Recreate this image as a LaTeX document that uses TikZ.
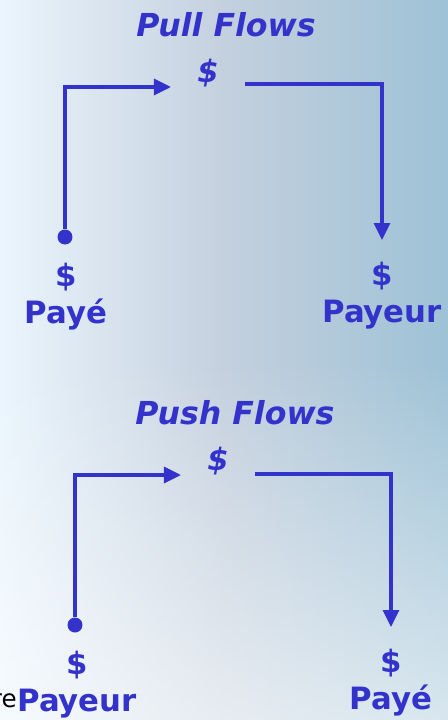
\documentclass[tikz,border=0pt]{standalone}
\usepackage{fontspec}
\setmainfont{DejaVu Sans}
\setsansfont{DejaVu Sans}
\usetikzlibrary{arrows.meta, positioning, calc, fadings}
\definecolor{flowblue}{RGB}{51, 51, 204}
\definecolor{bgleft}{RGB}{234, 245, 253}
\definecolor{bgmid}{RGB}{196, 208, 222}
\definecolor{bgright}{RGB}{158, 194, 214}
\tikzset{
  flow/.style     = {-{Triangle[length=0.34cm, width=0.32cm]}, line width=1.9pt, flowblue},
  title/.style    = {font=\fontsize{18}{21}\selectfont\bfseries\itshape, text=flowblue},
  money/.style    = {font=\fontsize{17.5}{21}\selectfont\bfseries\itshape, text=flowblue, inner xsep=0.52cm, inner ysep=0pt},
  party/.style    = {font=\fontsize{17.5}{21}\selectfont\bfseries, text=flowblue, align=center, inner xsep=0pt, inner ysep=0.44cm},
  srcdot/.style   = {circle, fill=flowblue, minimum size=0.3cm, inner sep=0pt},
}

\begin{document}
\begin{tikzpicture}[x=0.02cm, y=-0.02cm]

% fond
\useasboundingbox (0,0) rectangle (448,720);
\shade[left color=bgleft, right color=bgright, middle color=bgmid] (0,0) rectangle (448,720);
\fill[white, opacity=0.6, path fading=north] (0,360) rectangle (448,720);

% Pull Flows
\node[title] (pull_title) at (226,25) {Pull Flows};
\node[money] (pull_mid) at (208,73) {\$};
\node[srcdot] (pull_src) at (65,237) {};
\node[party, anchor=north, inner ysep=0pt] (pull_paye) at (66,263) {\$\\Payé};
\node[party, anchor=north] (pull_payeur) at (382,240) {\$\\Payeur};

\draw[flow] (pull_src) |- ($(pull_mid.west)+(0,14)$);
\draw[flow] ($(pull_mid.east)+(0,11)$) -| (pull_payeur.north);

% Push Flows
\node[title] (push_title) at (235,413) {Push Flows};
\node[money] (push_mid) at (218,461) {\$};
\node[srcdot] (push_src) at (75,625) {};
\node[party, anchor=north, inner ysep=0pt] (push_payeur) at (77,651) {\$\\Payeur};
\node[party, anchor=north] (push_paye) at (391,627) {\$\\Payé};

\draw[flow] (push_src) |- ($(push_mid.west)+(0,14)$);
\draw[flow] ($(push_mid.east)+(0,13)$) -| (push_paye.north);

% texte coupé
\node[anchor=base east, font=\fontsize{14}{16}\selectfont, inner sep=0pt] (cut_text) at (17,707) {re};

\end{tikzpicture}
\end{document}
